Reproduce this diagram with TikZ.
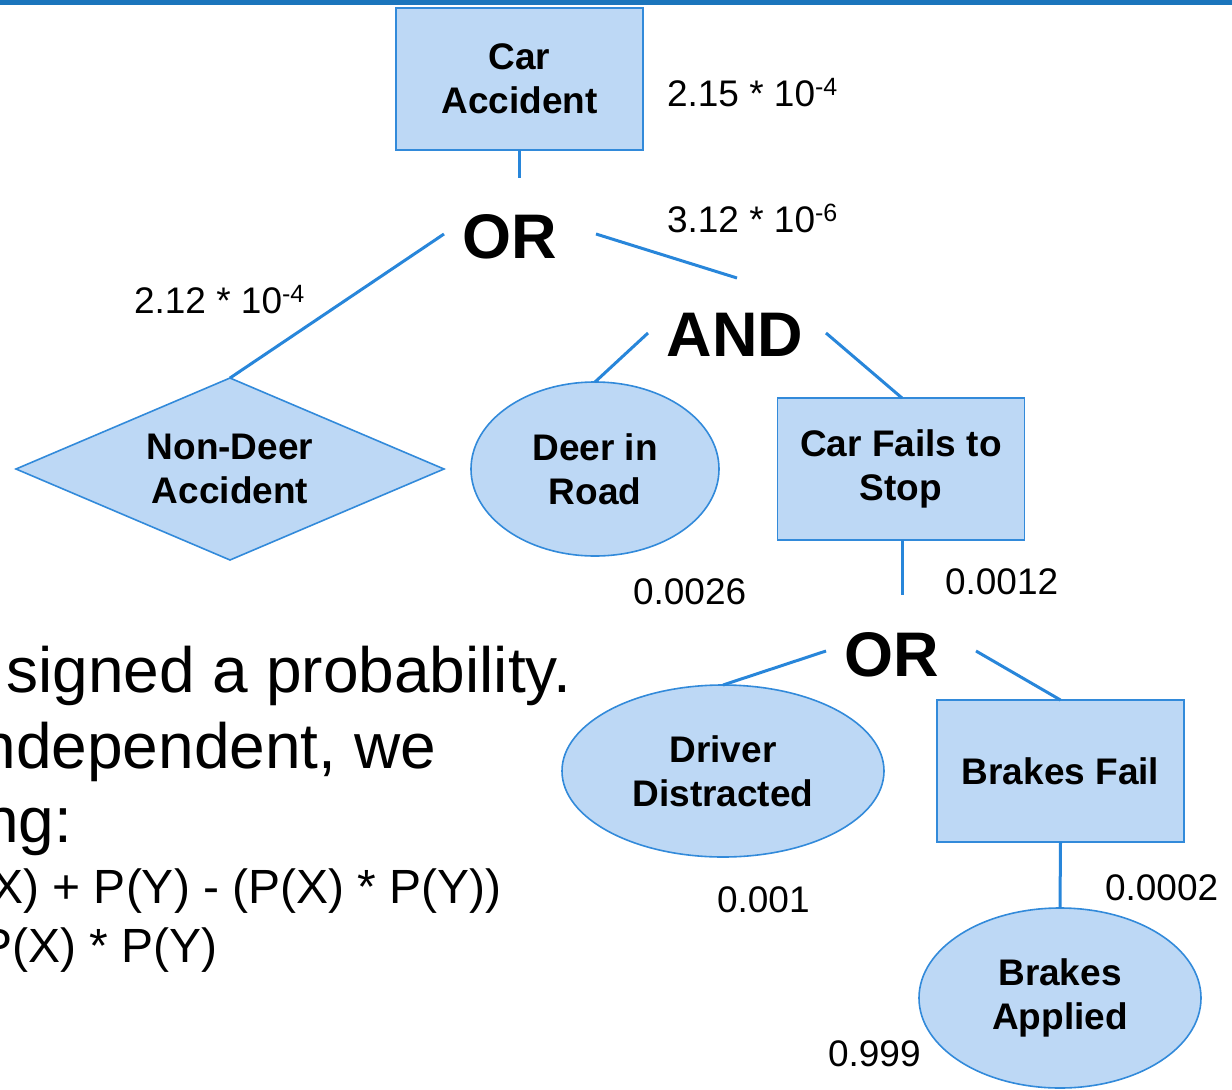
\documentclass[tikz,border=0pt]{standalone}
\usepackage{fontspec}
\setmainfont{Liberation Sans}
\usetikzlibrary{shapes.geometric}
\definecolor{shapefill}{RGB}{189,216,245}
\definecolor{shapedraw}{RGB}{50,138,218}
\definecolor{linkblue}{RGB}{40,134,218}
\definecolor{barblue}{RGB}{27,117,188}
\newcommand{\supx}[1]{\raisebox{10.5pt}{\fontsize{25}{25}\selectfont #1}}
\tikzset{
  every node/.style={inner sep=0pt, outer sep=0pt},
  evbox/.style={rectangle, draw=shapedraw, fill=shapefill, line width=1.6pt,
    minimum width=247pt, minimum height=142pt, align=center,
    font=\bfseries\fontsize{37}{44}\selectfont},
  evoval/.style={ellipse, draw=shapedraw, fill=shapefill, line width=1.6pt,
    align=center, font=\bfseries\fontsize{37}{44}\selectfont},
  evdiam/.style={diamond, draw=shapedraw, fill=shapefill, line width=1.6pt,
    aspect=2.35, minimum width=428pt, minimum height=182pt, align=center,
    font=\bfseries\fontsize{37}{44}\selectfont},
  gate/.style={font=\bfseries\fontsize{63}{63}\selectfont},
  prob/.style={anchor=base west, font=\fontsize{37}{37}\selectfont},
  bigtxt/.style={anchor=base east, font=\fontsize{64}{64}\selectfont},
  midtxt/.style={anchor=base east, font=\fontsize{48}{48}\selectfont},
  link/.style={draw=linkblue, line width=3pt}
}
\begin{document}
\begin{tikzpicture}[x=1pt,y=-1pt]
\useasboundingbox (0,0) rectangle (1232,1090);
\fill[barblue] (0,0) rectangle (1232,5);

% events
\node[evbox] (ca) at (519.5,79) {Car\\Accident};
\node[evdiam] (nd) at (230,469) {Non-Deer\\Accident};
\node[evoval, minimum width=248pt, minimum height=174pt] (deer) at (595,469) {Deer in\\Road};
\node[evbox] (cf) at (901,469) {Car Fails to\\Stop};
\node[evoval, minimum width=322pt, minimum height=172pt] (dd) at (723,771) {Driver\\Distracted};
\node[evbox] (bf) at (1060.5,771) {Brakes Fail};
\node[evoval, minimum width=282pt, minimum height=180pt] (ba) at (1060,998) {Brakes\\Applied};

% gates
\node[gate] (or1) at (510,237) {OR};
\node[gate] (and) at (735,335) {AND};
\node[gate] (or2) at (892,655) {OR};

% gate ports
\coordinate (or1t) at (519,178);
\coordinate (or1l) at (444,234);
\coordinate (or1r) at (596,234);
\coordinate (andt) at (737,278);
\coordinate (andl) at (648,333);
\coordinate (andr) at (826,333);
\coordinate (or2t) at (902,595);
\coordinate (or2l) at (826,651);
\coordinate (or2r) at (976,651);

% connectors
\draw[link] (ca.south -| or1t) -- (or1t);
\draw[link] (or1l) -- (nd.north);
\draw[link] (or1r) -- (andt);
\draw[link] (andl) -- (deer.north);
\draw[link] (andr) -- (902,398);
\draw[link] (cf.south -| or2t) -- (or2t);
\draw[link] (or2l) -- (dd.north);
\draw[link] (or2r) -- (bf.north);
\draw[link] (bf.south) -- (ba.north);

% probabilities
\node[prob] (p1) at (667,106) {2.15 * 10\supx{-4}};
\node[prob] (p2) at (667,232) {3.12 * 10\supx{-6}};
\node[prob] (p3) at (134,313) {2.12 * 10\supx{-4}};
\node[prob] (p4) at (633,604) {0.0026};
\node[prob] (p5) at (945,594) {0.0012};
\node[prob] (p6) at (717,912) {0.001};
\node[prob] (p7) at (1105,900) {0.0002};
\node[prob] (p8) at (828,1066) {0.999};

% cut-off slide text
\node[bigtxt] (t1) at (571,692) {signed a probability.};
\node[bigtxt] (t2) at (436,768) {ndependent, we};
\node[bigtxt] (t3) at (72,842) {ng:};
\node[midtxt] (t4) at (502,903) {X) + P(Y) - (P(X) * P(Y))};
\node[midtxt] (t5) at (218,962) {P(X) * P(Y)};
\end{tikzpicture}
\end{document}
